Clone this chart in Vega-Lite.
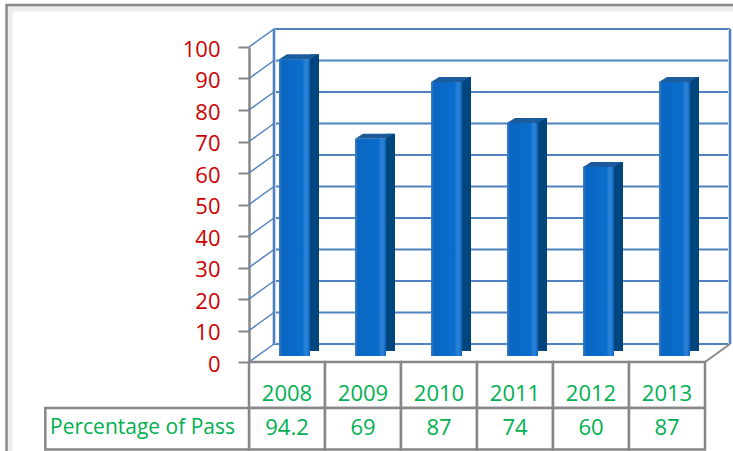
{
  "$schema": "https://vega.github.io/schema/vega-lite/v6.json",
  "autosize": {"type": "none"},
  "padding": {"left": 249, "top": 47, "right": 28, "bottom": 89},
  "width": 456,
  "height": 315,
  "background": "white",
  "datasets": {
    "main": [
      {"year": 2008, "pass": 94.2},
      {"year": 2009, "pass": 69},
      {"year": 2010, "pass": 87},
      {"year": 2011, "pass": 74},
      {"year": 2012, "pass": 60},
      {"year": 2013, "pass": 87}
    ],
    "levels": [
      {"v": 0}, {"v": 10}, {"v": 20}, {"v": 30}, {"v": 40}, {"v": 50},
      {"v": 60}, {"v": 70}, {"v": 80}, {"v": 90}, {"v": 100}
    ],
    "edges": [{"edge": 2007.5}, {"edge": 2013.5}],
    "one": [{}]
  },
  "config": {
    "view": {"stroke": null},
    "axisX": {"disable": true},
    "axisY": {
      "grid": false,
      "domainColor": "#878787",
      "domainWidth": 2.5,
      "tickColor": "#878787",
      "tickWidth": 2,
      "tickSize": 11,
      "tickCount": 11,
      "labelFont": "Open Sans",
      "labelFontSize": 22,
      "labelColor": "#cc0000",
      "labelPadding": 18,
      "labelOffset": 2,
      "labelOverlap": false
    }
  },
  "layer": [
    {
      "data": {"name": "one"},
      "mark": {"type": "rect", "fill": "transparent", "stroke": "#ececec", "strokeWidth": 6},
      "encoding": {
        "x": {"datum": 2004.35, "type": "quantitative", "scale": {"domain": [2007.5, 2013.5], "nice": false, "zero": false, "padding": 0}},
        "x2": {"datum": 2015},
        "y": {"datum": 112.2, "type": "quantitative", "scale": {"domain": [0, 100], "nice": false, "zero": false, "padding": 0}, "axis": {"values": [0, 10, 20, 30, 40, 50, 60, 70, 80, 90, 100], "title": null, "labelOverlap": false}},
        "y2": {"datum": -40}
      }
    },
    {
      "data": {"name": "one"},
      "mark": {"type": "rect", "fill": "transparent", "stroke": "#8a8a8a", "strokeWidth": 2.5},
      "encoding": {
        "x": {"datum": 2004.31, "type": "quantitative"},
        "x2": {"datum": 2015},
        "y": {"datum": 113.3, "type": "quantitative"},
        "y2": {"datum": -40}
      }
    },
    {
      "data": {"name": "levels"},
      "mark": {"type": "rule", "color": "#4f81bd", "strokeWidth": 2, "xOffset": 25, "x2Offset": 25, "yOffset": -18},
      "encoding": {
        "x": {"datum": 2007.5, "type": "quantitative"},
        "x2": {"datum": 2013.5},
        "y": {"field": "v", "type": "quantitative"}
      }
    },
    {
      "data": {"name": "edges"},
      "mark": {"type": "rule", "color": "#c6d9f1", "strokeWidth": 4, "xOffset": 25, "yOffset": -18, "y2Offset": -18},
      "encoding": {
        "x": {"field": "edge", "type": "quantitative"},
        "y": {"datum": 0, "type": "quantitative"},
        "y2": {"datum": 100}
      }
    },
    {
      "data": {"name": "edges"},
      "mark": {"type": "rule", "color": "#4f81bd", "strokeWidth": 2, "xOffset": 25, "yOffset": -18, "y2Offset": -18},
      "encoding": {
        "x": {"field": "edge", "type": "quantitative"},
        "y": {"datum": 0, "type": "quantitative"},
        "y2": {"datum": 100}
      }
    },
    {
      "data": {"name": "levels"},
      "mark": {"type": "rule", "color": "#4f81bd", "strokeWidth": 1.5, "x2Offset": 25, "y2Offset": -18},
      "encoding": {
        "x": {"datum": 2007.5, "type": "quantitative"},
        "x2": {"datum": 2007.5},
        "y": {"field": "v", "type": "quantitative"},
        "y2": {"field": "v"}
      }
    },
    {
      "data": {"name": "one"},
      "mark": {"type": "rule", "color": "#8a8a8a", "strokeWidth": 2, "x2Offset": 25, "y2Offset": -18},
      "encoding": {
        "x": {"datum": 2013.5, "type": "quantitative"},
        "x2": {"datum": 2013.5},
        "y": {"datum": 0, "type": "quantitative"},
        "y2": {"datum": 0}
      }
    },
    {
      "data": {"name": "main"},
      "mark": {"type": "bar", "width": 9, "xOffset": 27.5, "yOffset": -11, "y2Offset": -11, "color": "#00467e"},
      "encoding": {
        "x": {"field": "year", "type": "quantitative"},
        "y": {"field": "pass", "type": "quantitative"},
        "y2": {"datum": 0}
      }
    },
    {
      "data": {"name": "main"},
      "mark": {
        "type": "bar", "width": 31, "xOffset": 7.5, "yOffset": -6, "y2Offset": -6,
        "color": {
          "gradient": "linear", "x1": 0, "x2": 1, "y1": 0, "y2": 0,
          "stops": [
            {"offset": 0, "color": "#3f7fc4"},
            {"offset": 0.1, "color": "#0a66c2"},
            {"offset": 0.75, "color": "#0a6dcc"},
            {"offset": 0.88, "color": "#2f86d8"},
            {"offset": 1, "color": "#0a62bb"}
          ]
        }
      },
      "encoding": {
        "x": {"field": "year", "type": "quantitative"},
        "y": {"field": "pass", "type": "quantitative"},
        "y2": {"datum": 0}
      }
    },
    {
      "data": {"name": "main"},
      "mark": {
        "type": "point", "filled": true, "opacity": 1, "size": 1521, "xOffset": 11.5, "yOffset": -8.5,
        "shape": "M -1 0.128 L -0.59 -0.128 L 1 -0.128 L 0.59 0.128 Z",
        "color": "#1d5c9c", "strokeWidth": 0
      },
      "encoding": {
        "x": {"field": "year", "type": "quantitative"},
        "y": {"field": "pass", "type": "quantitative"}
      }
    },
    {
      "data": {"name": "main"},
      "mark": {"type": "bar", "width": 76, "fill": "white", "stroke": "#878787", "strokeWidth": 2.5},
      "encoding": {
        "x": {"field": "year", "type": "quantitative"},
        "y": {"datum": 0, "type": "quantitative"},
        "y2": {"datum": -14.6}
      }
    },
    {
      "data": {"name": "main"},
      "mark": {"type": "bar", "width": 76, "fill": "white", "stroke": "#878787", "strokeWidth": 2.5},
      "encoding": {
        "x": {"field": "year", "type": "quantitative"},
        "y": {"datum": -14.6, "type": "quantitative"},
        "y2": {"datum": -27.8}
      }
    },
    {
      "data": {"name": "one"},
      "mark": {"type": "rect", "fill": "white", "stroke": "#878787", "strokeWidth": 2.5},
      "encoding": {
        "x": {"datum": 2004.82, "type": "quantitative"},
        "x2": {"datum": 2007.5},
        "y": {"datum": -14.6, "type": "quantitative"},
        "y2": {"datum": -27.8}
      }
    },
    {
      "data": {"name": "main"},
      "mark": {"type": "text", "baseline": "middle", "align": "center", "font": "Open Sans", "fontSize": 22, "color": "#00b050"},
      "encoding": {
        "x": {"field": "year", "type": "quantitative"},
        "y": {"datum": -10.0, "type": "quantitative"},
        "text": {"field": "year", "type": "nominal"}
      }
    },
    {
      "data": {"name": "main"},
      "mark": {"type": "text", "baseline": "middle", "align": "center", "font": "Open Sans", "fontSize": 22, "color": "#00b050"},
      "encoding": {
        "x": {"field": "year", "type": "quantitative"},
        "y": {"datum": -20.95, "type": "quantitative"},
        "text": {"field": "pass", "type": "nominal"}
      }
    },
    {
      "data": {"name": "one"},
      "mark": {"type": "text", "baseline": "middle", "align": "left", "font": "Open Sans", "fontSize": 21, "color": "#00b050", "text": "Percentage of Pass"},
      "encoding": {
        "x": {"datum": 2004.882, "type": "quantitative"},
        "y": {"datum": -20.95, "type": "quantitative"}
      }
    }
  ]
}
